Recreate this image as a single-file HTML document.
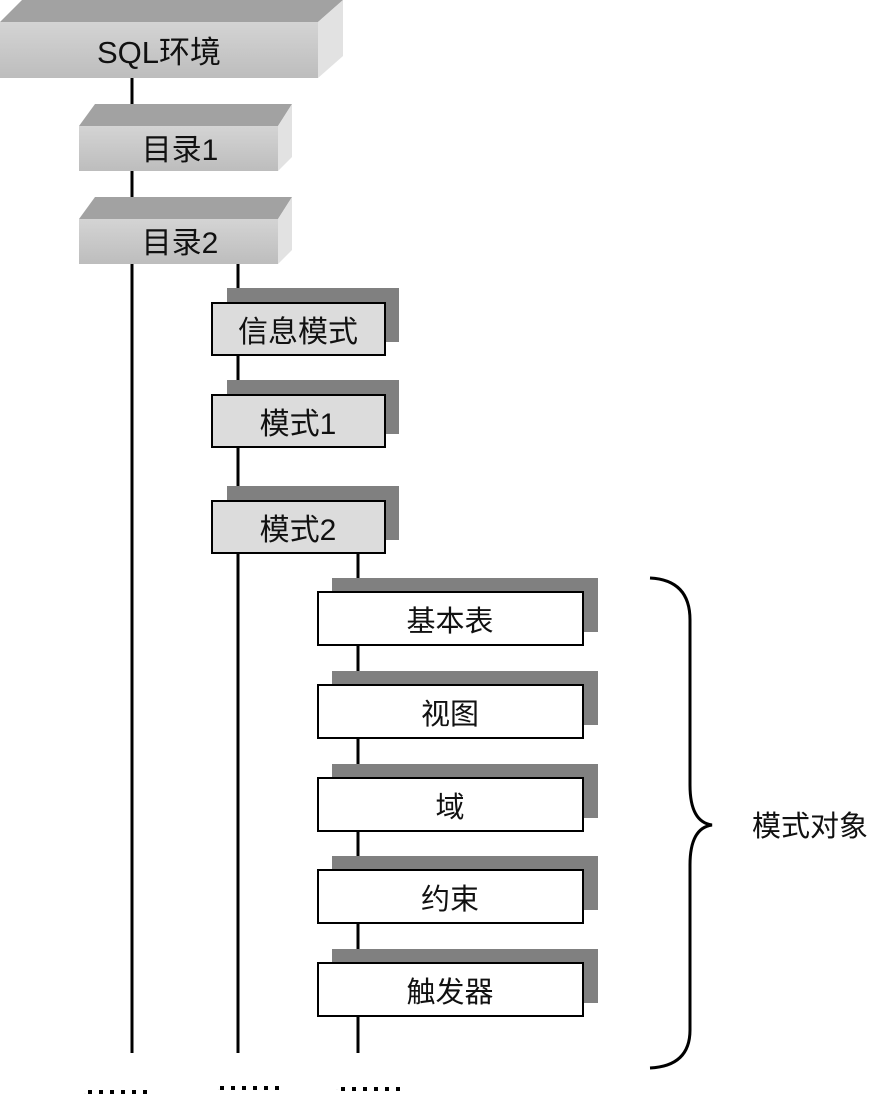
<!DOCTYPE html>
<html><head><meta charset="utf-8"><style>
html,body{margin:0;padding:0;background:#fff;}
svg text{font-family:"Liberation Sans","Noto Sans CJK SC",sans-serif;fill:#111;}
</style></head><body>
<svg width="889" height="1095" viewBox="0 0 889 1095" xmlns="http://www.w3.org/2000/svg">
<defs>
<linearGradient id="g" x1="0" y1="0" x2="0" y2="1"><stop offset="0" stop-color="#d4d4d4"/><stop offset="1" stop-color="#bdbdbd"/></linearGradient>
<pattern id="dots" width="11" height="4" patternUnits="userSpaceOnUse"><rect x="0" y="0" width="4" height="4" fill="#000"/></pattern>
</defs>
<g stroke="#000" stroke-width="3">
<line x1="132" y1="78" x2="132" y2="1053"/>
<line x1="238" y1="264" x2="238" y2="1053"/>
<line x1="358" y1="545" x2="358" y2="1053"/>
</g>
<polygon points="0,22 22,0 343,0 318,22" fill="#a2a2a2"/>
<polygon points="318,22 343,0 343,56 318,78" fill="#e2e2e2"/>
<rect x="0" y="22" width="318" height="56" fill="url(#g)"/>
<text x="159" y="63" font-size="31" text-anchor="middle">SQL环境</text>
<polygon points="79,126 95,104 292,104 278,126" fill="#a2a2a2"/>
<polygon points="278,126 292,104 292,157 278,171" fill="#e2e2e2"/>
<rect x="79" y="126" width="199" height="45" fill="url(#g)"/>
<text x="180" y="160" font-size="30" text-anchor="middle">目录1</text>
<polygon points="79,219 95,197 292,197 278,219" fill="#a2a2a2"/>
<polygon points="278,219 292,197 292,250 278,264" fill="#e2e2e2"/>
<rect x="79" y="219" width="199" height="45" fill="url(#g)"/>
<text x="180" y="253" font-size="30" text-anchor="middle">目录2</text>
<rect x="227" y="288" width="172" height="54" fill="#808080"/>
<rect x="212" y="303" width="173" height="52" fill="#dcdcdc" stroke="#000" stroke-width="2"/>
<text x="298" y="342" font-size="30" text-anchor="middle">信息模式</text>
<rect x="227" y="380" width="172" height="54" fill="#808080"/>
<rect x="212" y="395" width="173" height="52" fill="#dcdcdc" stroke="#000" stroke-width="2"/>
<text x="298" y="434" font-size="30" text-anchor="middle">模式1</text>
<rect x="227" y="486" width="172" height="54" fill="#808080"/>
<rect x="212" y="501" width="173" height="52" fill="#dcdcdc" stroke="#000" stroke-width="2"/>
<text x="298" y="540" font-size="30" text-anchor="middle">模式2</text>
<rect x="332" y="578" width="266" height="54" fill="#808080"/>
<rect x="318" y="592" width="265" height="53" fill="#fff" stroke="#000" stroke-width="2"/>
<text x="450" y="631" font-size="29" text-anchor="middle">基本表</text>
<rect x="332" y="671" width="266" height="54" fill="#808080"/>
<rect x="318" y="685" width="265" height="53" fill="#fff" stroke="#000" stroke-width="2"/>
<text x="450" y="724" font-size="29" text-anchor="middle">视图</text>
<rect x="332" y="764" width="266" height="54" fill="#808080"/>
<rect x="318" y="778" width="265" height="53" fill="#fff" stroke="#000" stroke-width="2"/>
<text x="450" y="817" font-size="29" text-anchor="middle">域</text>
<rect x="332" y="856" width="266" height="54" fill="#808080"/>
<rect x="318" y="870" width="265" height="53" fill="#fff" stroke="#000" stroke-width="2"/>
<text x="450" y="909" font-size="29" text-anchor="middle">约束</text>
<rect x="332" y="949" width="266" height="54" fill="#808080"/>
<rect x="318" y="963" width="265" height="53" fill="#fff" stroke="#000" stroke-width="2"/>
<text x="450" y="1002" font-size="29" text-anchor="middle">触发器</text>
<path d="M650,578 Q690,580 690,620 L690,785 Q690,822 712,825 Q690,828 690,865 L690,1030 Q690,1066 650,1068" fill="none" stroke="#000" stroke-width="3"/>
<text x="752" y="836" font-size="29">模式对象</text>
<text x="84" y="1094" font-size="1" fill="#fff">......</text>
<text x="218" y="1090" font-size="1" fill="#fff">......</text>
<text x="336" y="1090" font-size="1" fill="#fff">......</text>
<rect x="86" y="1090" width="62" height="4" fill="url(#dots)"/>
<rect x="220" y="1086" width="62" height="4" fill="url(#dots)"/>
<rect x="338" y="1087" width="62" height="4" fill="url(#dots)"/>
</svg>
</body></html>
